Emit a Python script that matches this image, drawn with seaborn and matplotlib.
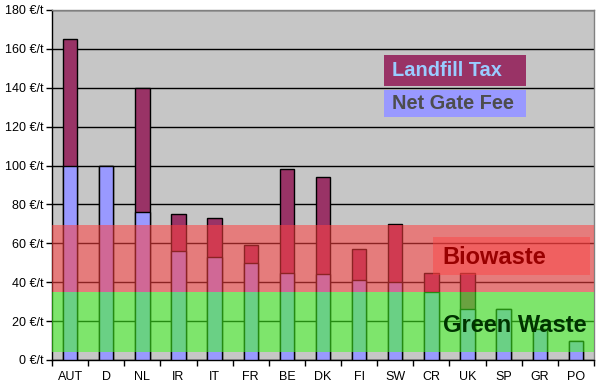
import matplotlib
matplotlib.use("Agg")
import matplotlib.pyplot as plt
import seaborn as sns
import pandas as pd
from matplotlib.patches import Rectangle

countries = ["AUT", "D", "NL", "IR", "IT", "FR", "BE", "DK", "FI", "SW", "CR", "UK", "SP", "GR", "PO"]
net_gate_fee = [100, 100, 76, 56, 53, 50, 45, 44, 41, 40, 35, 26, 26, 16, 10]
landfill_tax = [65, 0, 64, 19, 20, 9, 53, 50, 16, 30, 10, 19, 0, 0, 0]
y_ticks = [0, 20, 40, 60, 80, 100, 120, 140, 160, 180]
biowaste_band = (35, 69.5)
green_band = (4, 35)

df = pd.DataFrame({"country": countries, "net": net_gate_fee, "tax": landfill_tax})
df["total"] = df["net"] + df["tax"]

sns.set_theme(style="white")
plt.rcParams["font.family"] = ["Liberation Sans", "DejaVu Sans"]

TAX = "#993366"
NET = "#9999ff"
BG = "#c6c6c6"

fig = plt.figure(figsize=(6.0, 3.87), dpi=100)
ax = fig.add_axes([52 / 600, 1 - 360 / 387, 542 / 600, 350 / 387])
ax.set_facecolor(BG)

sns.barplot(data=df, x="country", y="total", color=TAX, width=0.4, saturation=1,
            edgecolor="black", linewidth=1, ax=ax, zorder=2)
sns.barplot(data=df, x="country", y="net", color=NET, width=0.4, saturation=1,
            edgecolor="black", linewidth=1, ax=ax, zorder=3)

ax.set_xlim(-0.5, len(countries) - 0.5)
ax.set_ylim(0, 180)
ax.set_yticks(y_ticks)
ax.set_yticklabels([f"{v} \u20ac/t" for v in y_ticks], fontsize=9, color="black")
ax.yaxis.grid(True, color="black", linewidth=1)
ax.set_axisbelow(True)

# x ticks: marks at boundaries, labels at centres
ax.set_xticks([i - 0.5 for i in range(len(countries) + 1)])
ax.set_xticklabels([""] * (len(countries) + 1))
ax.set_xticks(range(len(countries)), minor=True)
ax.set_xticklabels(countries, minor=True, fontsize=9, color="black")
ax.tick_params(axis="x", which="major", length=4, width=1, color="black", direction="out", bottom=True)
ax.tick_params(axis="x", which="minor", length=0, pad=8)
ax.tick_params(axis="y", length=4, width=1, color="black", direction="out", left=True, pad=2)
ax.set_xlabel("")
ax.set_ylabel("")

for s in ["top", "right"]:
    ax.spines[s].set_color("#808080")
    ax.spines[s].set_linewidth(1)
for s in ["left", "bottom"]:
    ax.spines[s].set_color("black")
    ax.spines[s].set_linewidth(1)

# category bands
ax.axhspan(biowaste_band[0], biowaste_band[1], color="#ff4040", alpha=0.55, lw=0, zorder=4)
ax.axhspan(green_band[0], green_band[1], color="#44ff22", alpha=0.55, lw=0, zorder=4)

# Biowaste label box
ax.add_patch(Rectangle((0.703, 0.243), 0.29, 0.108, transform=ax.transAxes,
                       facecolor="#ff4040", alpha=0.45, lw=0, zorder=5))
ax.text(0.721, 0.274, "Biowaste", transform=ax.transAxes, fontsize=17, fontweight="bold",
        color="#990000", ha="left", va="baseline", zorder=6)
ax.text(0.721, 0.08, "Green Waste", transform=ax.transAxes, fontsize=17, fontweight="bold",
        color="#003300", ha="left", va="baseline", zorder=6)

# legend boxes
ax.add_patch(Rectangle((0.6125, 0.783), 0.262, 0.088, transform=ax.transAxes,
                       facecolor=TAX, lw=0, zorder=6))
ax.text(0.628, 0.827, "Landfill Tax", transform=ax.transAxes, fontsize=14.4, fontweight="bold",
        color="#99ccff", ha="left", va="center", zorder=7)
ax.add_patch(Rectangle((0.6125, 0.694), 0.262, 0.077, transform=ax.transAxes,
                       facecolor=NET, lw=0, zorder=6))
ax.text(0.628, 0.732, "Net Gate Fee", transform=ax.transAxes, fontsize=14.4, fontweight="bold",
        color="#4d4d4d", ha="left", va="center", zorder=7)

fig.savefig("out.png", dpi=100, facecolor="white")
